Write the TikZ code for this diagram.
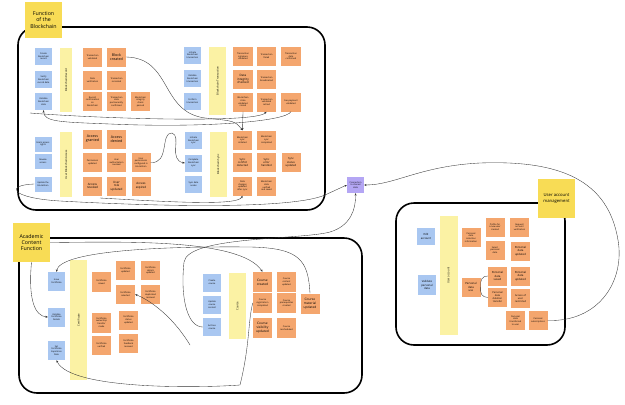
\documentclass[tikz,border=0pt]{standalone}
\usepackage{fontspec}
\setmainfont{Open Sans}
\usetikzlibrary{arrows.meta}
\definecolor{orn}{HTML}{F4A66E}
\definecolor{blu}{HTML}{A9C7F1}
\definecolor{ylw}{HTML}{F8DC55}
\definecolor{ybar}{HTML}{FBF2A4}
\definecolor{prp}{HTML}{B4A6F4}
\tikzset{
  box/.style={inner sep=0pt, align=center, font=\fontsize{2.2}{2.7}\selectfont},
  on/.style={box, fill=orn, minimum width=19pt, minimum height=19pt},
  onb/.style={on, font=\fontsize{3.6}{4.2}\selectfont},
  bn/.style={box, fill=blu, minimum width=17pt, minimum height=17pt},
  bar/.style={box, fill=ybar, font=\fontsize{2.7}{3.1}\selectfont},
  lab/.style={inner sep=0pt, fill=ylw, align=center, font=\fontsize{5.3}{6.3}\selectfont},
  cont/.style={line width=1.6pt, rounded corners=18pt},
  con/.style={line width=0.35pt, draw=black!80, -{Stealth[length=2.4pt,width=2pt]}},
  lin/.style={line width=0.35pt, draw=black!80}
}
\begin{document}
\begin{tikzpicture}[x=1pt,y=-1pt]
\useasboundingbox[fill=white] (0,0) rectangle (625,405);
% containers
\draw[cont] (18,27) rectangle (325,210);
\draw[cont] (19,238) rectangle (362,393);
\draw[cont] (396,203) rectangle (565,345);
% ===== Blockchain Record
\node[bn] (rb1) at (43.5,56.5) {Create\\blockchain\\record};
\node[bn] (rb2) at (43.5,79.5) {Verify\\blockchain\\record data};
\node[bn] (rb3) at (43.5,101.5) {Validate\\blockchain\\data};
\node[bar, minimum width=12pt, minimum height=64pt] (rbar) at (66,80) {\rotatebox{90}{Blockchain Record}};
\node[on] (r11) at (92.5,57) {Transaction\\validated};
\node[onb] (r12) at (116.5,57) {Block\\created};
\node[on] (r21) at (92.5,80) {Data\\verification};
\node[on] (r22) at (116.5,80) {Transaction\\recorded};
\node[on] (r31) at (92.5,101.5) {Record\\confirmation\\on\\blockchain};
\node[on] (r32) at (116.5,101.5) {Transaction\\data\\permanently\\confirmed};
\node[on] (r33) at (140.5,101.5) {Blockchain\\integrity\\check\\passed};
% ===== User Blockchain Access
\node[bn, minimum height=15pt] (ub1) at (43,144) {Grant access\\rights};
\node[bn, minimum height=15pt] (ub2) at (43,161) {Revoke\\access};
\node[bn, minimum height=15pt] (ub3) at (43,184) {Update the\\blockchain};
\node[bar, minimum width=12pt, minimum height=65pt] (ubar) at (66,164.5) {\rotatebox{90}{User Blockchain Access}};
\node[onb] (u11) at (92.5,139) {Access\\granted};
\node[onb] (u12) at (116.5,139) {Access\\denied};
\node[on] (u21) at (92.5,162.5) {Permission\\updated};
\node[on] (u22) at (116.5,162.5) {User\\authorization\\revoked};
\node[on] (u23) at (141,162.5) {User\\permissions\\configured in\\blockchain};
\node[onb, font=\fontsize{3}{3.6}\selectfont] (u31) at (92.5,186) {Access\\revoked};
\node[onb, font=\fontsize{3}{3.6}\selectfont] (u32) at (116.5,186) {User\\role\\updated};
\node[onb, font=\fontsize{3}{3.6}\selectfont] (u33) at (141,186) {Access\\expired};
% ===== Blockchain Transaction
\node[bn] (tb1) at (192.5,55) {Initiate\\blockchain\\transaction};
\node[bn] (tb2) at (192.5,78.5) {Validate\\blockchain\\transaction};
\node[bn] (tb3) at (192.5,101.5) {Confirm\\transaction};
\node[bar, minimum width=17pt, minimum height=68pt] (tbar) at (217.5,81) {\rotatebox{90}{Blockchain Transaction}};
\node[on, minimum width=20pt] (t11) at (243,56.5) {Transaction\\signature\\validated};
\node[on] (t12) at (266.5,56.5) {Transaction\\failed};
\node[on, minimum width=20pt] (t13) at (291,56.5) {Transaction\\data\\confirmed};
\node[onb, minimum width=20pt, font=\fontsize{3}{3.6}\selectfont] (t21) at (243,79) {Data\\integrity\\checked};
\node[on] (t22) at (266.5,79) {Transaction\\broadcasted};
\node[on, minimum width=20pt] (t31) at (243,102) {Blockchain\\state\\validated\\stored};
\node[on] (t32) at (266.5,102) {Transaction\\validated\\retried};
\node[on, minimum width=20pt] (t33) at (291,102) {Fee payment\\validated};
% ===== Blockchain Sync
\node[bn] (sb1) at (193.5,140.5) {Initiate\\blockchain\\sync};
\node[bn] (sb2) at (193.5,163) {Complete\\blockchain\\sync};
\node[bn] (sb3) at (193.5,184.5) {Sync data\\nodes};
\node[bar, minimum width=17pt, minimum height=65pt] (sbar) at (218.5,164.5) {\rotatebox{90}{Blockchain Sync}};
\node[on] (s11) at (242.5,140) {Blockchain\\sync\\initiated};
\node[on] (s12) at (266.5,140) {Blockchain\\sync\\completed};
\node[on, font=\fontsize{2.7}{3.2}\selectfont] (s21) at (242.5,162.5) {Sync\\conflict\\detected};
\node[on, font=\fontsize{2.7}{3.2}\selectfont] (s22) at (266.5,162.5) {Sync\\error\\handled};
\node[on, font=\fontsize{2.7}{3.2}\selectfont] (s23) at (291,162.5) {Sync\\status\\updated};
\node[on] (s31) at (242.5,186) {Data\\changes\\updated\\after sync};
\node[on] (s32) at (266.5,186) {Blockchain\\data\\verified\\and saved};
% purple hub
\node[box, fill=prp, minimum width=17pt, minimum height=16pt] (hub) at (355.5,185) {Connection\\to shared\\data};
% ===== Certificate
\node[bn, minimum height=19pt] (cb1) at (56.5,281.5) {Issue\\Certificate};
\node[bn, minimum height=19pt] (cb2) at (56.5,317) {Validate\\Certificate\\Details};
\node[bn, minimum height=19pt] (cb3) at (56.5,350.5) {Set\\Certificate\\Expiration\\Date};
\node[bar, minimum width=17pt, minimum height=120pt] (cbar) at (78.5,320) {\rotatebox{90}{Certificate}};
\node[on, minimum height=20pt] (c11) at (101.5,282) {Certificate\\issued};
\node[on] (c12) at (125.5,270.5) {Certificate\\updated};
\node[on] (c13) at (150.5,270.5) {Certificate\\details\\updated};
\node[on] (c22) at (125.5,294.5) {Certificate\\selected};
\node[on] (c23) at (150.5,294.5) {Certificate\\duplicated\\reissued};
\node[on, minimum height=20pt] (c31) at (101.5,322.5) {Certificate\\ownership\\transfer\\made};
\node[on] (c32) at (128.5,320) {Certificate\\status\\updated};
\node[on] (c41) at (101.5,345.5) {Certificate\\verified};
\node[on] (c42) at (128.5,343.5) {Certificate\\feedback\\received};
% ===== Course
\node[bn, minimum width=18pt, minimum height=18pt] (ob1) at (212,282.5) {Create\\course};
\node[bn, minimum width=18pt, minimum height=18pt] (ob2) at (212,304.5) {Update\\course\\content};
\node[bn, minimum width=18pt, minimum height=18pt] (ob3) at (212,327) {Archive\\course};
\node[bar, minimum width=17pt, minimum height=66pt] (obar) at (237.5,306) {\rotatebox{90}{Course}};
\node[onb, minimum height=20pt, font=\fontsize{3.2}{3.8}\selectfont] (o11) at (262.5,282) {Course\\created};
\node[on, minimum height=20pt] (o12) at (286.5,282) {Course\\content\\updated};
\node[on, minimum height=20pt] (o21) at (262.5,303) {Course\\registration\\completed};
\node[on, minimum height=20pt] (o22) at (286.5,303) {Course\\prerequisites\\created};
\node[onb, minimum height=20pt, font=\fontsize{3.2}{3.8}\selectfont] (o23) at (310,303.5) {Course\\material\\updated};
\node[onb, minimum height=20pt, font=\fontsize{3.2}{3.8}\selectfont] (o31) at (262.5,328) {Course\\visibility\\updated};
\node[on, minimum height=20pt] (o32) at (286.5,328) {Course\\rescheduled};
% ===== User account
\node[bn, minimum width=18pt, font=\fontsize{2.8}{3.3}\selectfont] (ab1) at (426,236.5) {Edit\\account};
\node[bn, minimum width=18pt, minimum height=20pt, font=\fontsize{2.8}{3.3}\selectfont] (ab2) at (427,285) {Validate\\personal\\data};
\node[bar, minimum width=18pt, minimum height=119pt] (abar) at (448.5,275.5) {\rotatebox{90}{User account}};
\node[on] (a11) at (471,237.5) {Personal\\data\\collection\\information};
\node[onb, font=\fontsize{2.8}{3.3}\selectfont] (a21) at (471,287) {Personal\\data\\use};
\node[on] (a12) at (495,227) {Profile for\\a new user\\created};
\node[on] (a13) at (519.5,227) {Request\\account\\verification};
\node[on] (a22) at (495,250) {Select\\personal\\data};
\node[onb, font=\fontsize{2.8}{3.3}\selectfont] (a23) at (520.5,251) {Personal\\data\\updated};
\node[onb, font=\fontsize{2.8}{3.3}\selectfont] (a32) at (497.5,276) {Personal\\data\\saved};
\node[onb, font=\fontsize{2.8}{3.3}\selectfont] (a33) at (520.5,276) {Personal\\data\\updated};
\node[on, font=\fontsize{2.5}{3}\selectfont] (a42) at (497.5,297.5) {Personal\\data\\deletion\\transfer};
\node[on, font=\fontsize{2.5}{3}\selectfont] (a43) at (520.5,298.5) {Access of\\user\\restricted};
\node[on] (a51) at (515.5,320.5) {Personal\\data\\transferred\\to user};
\node[on] (a52) at (538,320.5) {Personal\\subscriptions};
% labels
\node[lab, minimum width=37pt, minimum height=36pt] (L1) at (43.5,20) {Function\\of the\\Blockchain};
\node[lab, minimum width=37pt, minimum height=39pt] (L2) at (31.5,242.5) {Academic\\Content\\Function};
\node[lab, minimum width=37pt, minimum height=39pt, font=\fontsize{4.2}{5.2}\selectfont] (L3) at (556.5,198.5) {User account\\management};
% ===== connectors
\draw[con] (r12.east) .. controls (172,58) and (160,112) .. (205,118) .. controls (235,121) .. (s11.north);
\draw[con] (t31.south) -- (s11.north);
\draw[con] (t33.south) .. controls (285,122) and (200,128) .. (110,124) .. controls (60,122) and (44,122) .. (rb3.south);
\draw[con] (30,113) .. controls (90,118) and (255,124) .. (t32.south);
\draw[con] (u23.east) .. controls (170,164) and (160,132) .. (172,133) .. controls (182,136) and (168,160) .. (sb2.west);
\draw[con] (100,198) .. controls (170,202) and (238,206) .. (s31.south);
\draw[con] (ub3.west) .. controls (5,185) and (10,198) .. (60,201) .. controls (150,206) and (290,210) .. (325,195) .. controls (335,190) .. (hub.west);
\draw[con] (a52.east) .. controls (600,322) and (625,280) .. (618,240) .. controls (608,180) and (560,160) .. (480,163) .. controls (420,166) and (395,185) .. (hub.east);
\draw[con] (L2.east) .. controls (120,242) and (240,238) .. (o11.north);
\draw[con] (o23.north) .. controls (308,260) and (300,248) .. (250,247) .. controls (150,246) and (60,252) .. (cb1.north);
\draw[con] (L2.south) .. controls (28,300) and (35,316) .. (cb2.west);
\draw[con] (ob3.west) .. controls (188,327) and (180,300) .. (184,262) .. controls (188,236) and (300,240) .. (330,232) .. controls (350,226) and (356,210) .. (hub.south);
\draw[con] (190,345) .. controls (170,312) and (145,298) .. (c22.east);
\draw[con] (o21.west) .. controls (248,320) and (250,345) .. (240,385) .. controls (200,388) and (70,390) .. (cb3.south);
\draw[lin] (a21.east) .. controls (480,280) and (482,276) .. (a32.west);
\draw[lin] (a21.east) .. controls (480,294) and (482,297) .. (a42.west);
\end{tikzpicture}
\end{document}
